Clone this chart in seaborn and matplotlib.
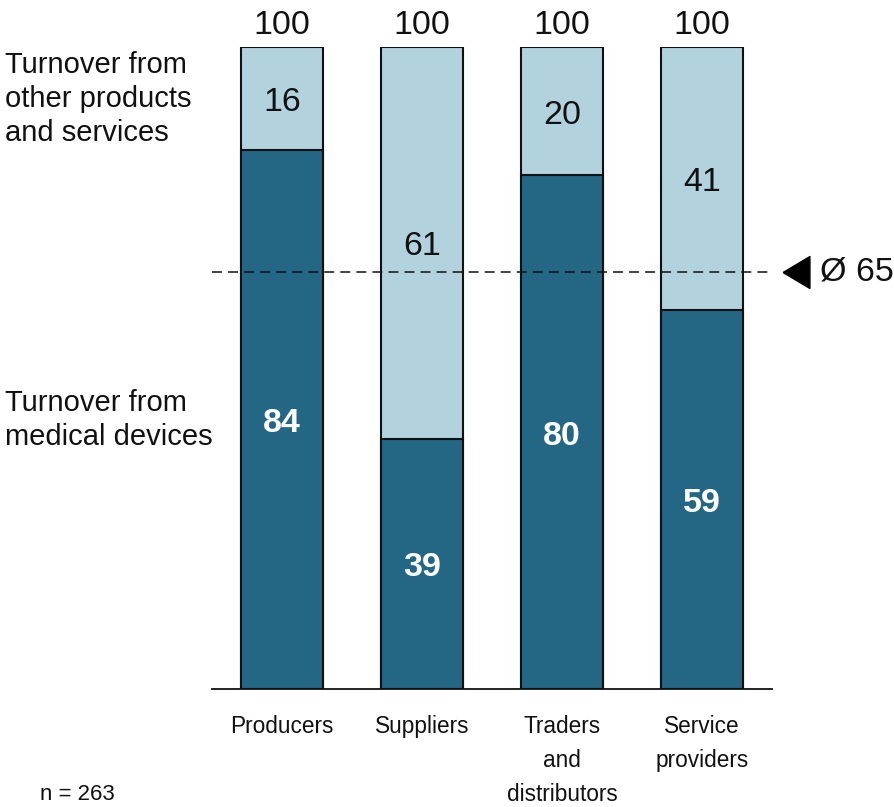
import matplotlib
matplotlib.use("Agg")
import matplotlib.pyplot as plt
import seaborn as sns
import pandas as pd

categories = ["Producers", "Suppliers", "Traders\nand\ndistributors", "Service\nproviders"]
medical = [84, 39, 80, 59]
other = [16, 61, 20, 41]
totals = [100, 100, 100, 100]
average = 65
n_label = "n = 263"
label_other = "Turnover from\nother products\nand services"
label_medical = "Turnover from\nmedical devices"

DARK = "#246784"
LIGHT = "#B2D3DE"

sns.set_theme(style="white")
plt.rcParams["font.family"] = ["Liberation Sans", "DejaVu Sans"]

df = pd.DataFrame({"category": categories, "medical": medical, "other": other, "total": totals})

fig = plt.figure(figsize=(8.95, 8.07), dpi=100)
W, H = 895, 807
ax = fig.add_axes([212 / W, (H - 689) / H, (772 - 212) / W, (689 - 47) / H])

bw = 82 / 140
sns.barplot(data=df, x="category", y="total", color=LIGHT, width=bw, ax=ax,
            edgecolor="#111111", linewidth=1.5, saturation=1)
sns.barplot(data=df, x="category", y="medical", color=DARK, width=bw, ax=ax,
            edgecolor="#111111", linewidth=1.5, saturation=1)

ax.set_xlim(-0.5, 3.5)
ax.set_ylim(0, 100)
ax.set_xlabel("")
ax.set_ylabel("")
ax.set_yticks([])
for s in ["top", "left", "right"]:
    ax.spines[s].set_visible(False)
ax.spines["bottom"].set_color("#111111")
ax.spines["bottom"].set_linewidth(1.3)
ax.tick_params(axis="x", length=0, pad=19, labelsize=16.3, labelcolor="#111111")
for lab in ax.get_xticklabels():
    lab.set_linespacing(1.6)

for i, (m, o, t) in enumerate(zip(medical, other, totals)):
    ax.annotate(f"{m}", (i, m / 2), xytext=(0, -3), textcoords="offset points",
                ha="center", va="center", color="white", fontsize=24.5, fontweight="bold")
    ax.annotate(f"{o}", (i, m + o / 2), xytext=(0, -3), textcoords="offset points",
                ha="center", va="center", color="#111111", fontsize=24.5)
    ax.text(i, t + 1.0, f"{t}", ha="center", va="bottom", color="#111111", fontsize=24.5,
            clip_on=False)

# average line
ax.plot([-0.5, 3.5], [average, average], color="#111111", lw=1.1,
        linestyle=(0, (6.5, 4)), clip_on=False, zorder=5)
ax.plot([3.671], [average], marker=[(-0.42, 0), (0.42, 0.5), (0.42, -0.5), (-0.42, 0)],
        markersize=23, color="black", clip_on=False, zorder=6)
ax.text(3.84, average, f"Ø {average}", ha="left", va="center", fontsize=24.5,
        color="#111111", clip_on=False)

fig.text(5 / W, 1 - 99 / H, label_other, ha="left", va="center", fontsize=21,
         color="#111111", linespacing=1.27)
fig.text(5 / W, 1 - 420 / H, label_medical, ha="left", va="center", fontsize=21,
         color="#111111", linespacing=1.27)
fig.text(40 / W, 1 - 805 / H, n_label, ha="left", va="bottom", fontsize=16, color="#111111")

fig.savefig("out.png", dpi=100)
